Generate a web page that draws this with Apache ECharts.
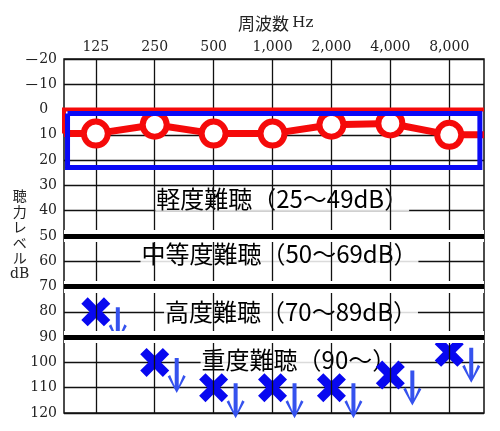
<!DOCTYPE html>
<html><head><meta charset="utf-8">
<script src="https://cdn.jsdelivr.net/npm/echarts@6/dist/echarts.min.js"></script>
<style>html,body{margin:0;padding:0;background:#fff}#c{width:500px;height:431px}</style>
</head><body><div id="c"></div>
<script>
// frequencies (Hz) shown on top axis
const freqLabels = ['125','250','500','1,000','2,000','4,000','8,000'];
// right ear thresholds (red O), dB
const rightEar = [9.5, 6, 9.5, 9.5, 6, 5.5, 10];
// left ear thresholds, scale-out (blue X with arrow), dB
const leftEar = [80, 100, 110, 110, 110, 105, 96];
// hearing-loss band boundaries (dB)
const bandLines = [50, 70, 90];
const bandNames = ['軽度難聴（25〜49dB）','中等度難聴（50〜69dB）','高度難聴（70〜89dB）','重度難聴（90〜）'];
// normal range box (dB)
const normalTop = 1.6, normalBottom = 22.9;

const XMIN = -0.54, XMAX = 6.59;
const labelPos = [[1.0,35.5],[0.75,57],[1.15,80],[1.77,99]];

const chart = echarts.init(document.getElementById('c'), null, {renderer:'canvas'});
const serif = 'DejaVu Serif';
const cjk = "'Noto Sans CJK JP'";
const xPath = 'path://M11.5,0H20.5V11.5H32V20.5H20.5V32H11.5V20.5H0V11.5H11.5Z';
const arrowPath = 'path://M7,0H11V28L15.6,17L18,18.6L9,35L0,18.6L2.4,17L7,28Z';

const thresholdData = [{value:[XMIN, rightEar[0]], symbol:'none'}]
  .concat(rightEar.map((v,i)=>({value:[i,v]})))
  .concat([{value:[XMAX, rightEar[rightEar.length-1]], symbol:'none'}]);

chart.setOption({
  animation:false,
  grid:{left:64,right:16,top:59,bottom:18,show:true,borderColor:'#111',borderWidth:1.5},
  xAxis:{type:'value',position:'top',min:XMIN,max:XMAX,
    splitLine:{show:false},axisLine:{show:false},axisTick:{show:false},
    axisLabel:{customValues:freqLabels.map((_,i)=>i),formatter:v=>freqLabels[Math.round(v)],
      margin:5,fontFamily:serif,fontSize:14,color:'#222'}},
  yAxis:{type:'value',inverse:true,min:-20,max:120,interval:10,
    axisLine:{show:false},axisTick:{show:false},
    splitLine:{show:true,lineStyle:{color:'#111',width:1.3}},
    axisLabel:{margin:7,fontFamily:serif,fontSize:14,color:'#222',
      formatter:v=>v<0?'{m|－}'+(-v):(v===0?'0\u2007':String(v)),
      rich:{m:{fontFamily:cjk,fontSize:15,color:'#222'}}}},
  graphic:[
    {type:'text',left:238,top:15,style:{text:'{a|周波数} {b|Hz}',rich:{a:{fontFamily:cjk,fontSize:17,fill:'#222'},b:{fontFamily:serif,fontSize:15,fill:'#222'}}}},
    {type:'text',left:10,top:189,style:{text:'{a|聴}\n{a|力}\n{a|レ}\n{a|ベ}\n{a|ル}\n{b|dB}',
      rich:{a:{fontFamily:cjk,fontSize:14,lineHeight:15.5,fill:'#222',align:'center'},
            b:{fontFamily:serif,fontSize:14,lineHeight:18,fill:'#222',align:'center'}}}}
  ],
  series:[
    {type:'line',data:[],z:1,silent:true,
      markLine:{silent:true,symbol:['none','none'],label:{show:false},
        lineStyle:{color:'#111',width:1.3,type:'solid'},
        data:freqLabels.map((_,i)=>({xAxis:i}))}},
    {type:'scatter',z:2,silent:true,symbolSize:1,itemStyle:{color:'rgba(0,0,0,0)',opacity:1},
      data:bandNames.map((n,i)=>({name:n,value:labelPos[i]})),
      label:{show:true,position:'right',distance:0,formatter:p=>p.name,
        fontFamily:cjk,fontSize:24,fontWeight:'normal',color:'#000',backgroundColor:'rgba(255,255,255,0.85)',padding:[0,1]}},
    {type:'scatter',z:3,symbol:arrowPath,symbolSize:[18,35],symbolOffset:[22,13],
      itemStyle:{color:'#3552ee',opacity:1},data:leftEar.map((v,i)=>[i,v])},
    {type:'scatter',z:4,symbol:xPath,symbolSize:32,symbolRotate:45,
      itemStyle:{color:'#0808f0',opacity:1},data:leftEar.map((v,i)=>[i,v])},
    {type:'line',data:[],z:5,silent:true,
      markLine:{silent:true,symbol:['none','none'],label:{show:false},
        lineStyle:{color:'#fff',width:12,type:'solid'},
        data:bandLines.map(v=>({yAxis:v}))}},
    {type:'line',data:[],z:6,silent:true,
      markLine:{silent:true,symbol:['none','none'],label:{show:false},
        lineStyle:{color:'#000',width:5,type:'solid'},
        data:bandLines.map(v=>({yAxis:v}))}},
    {type:'line',z:7,symbol:'none',clip:false,
      lineStyle:{color:'#f50a0a',width:4,join:'miter'},
      data:[[XMIN,rightEar[0]],[XMIN,0],[XMAX,0]]},
    {type:'line',z:8,symbol:'circle',symbolSize:24,clip:false,
      lineStyle:{color:'#f50a0a',width:7},
      itemStyle:{color:'#fff',borderColor:'#f50a0a',borderWidth:6},
      data:thresholdData},
    {type:'line',z:9,symbol:'none',clip:false,
      lineStyle:{color:'#0a0af5',width:5,join:'miter'},
      data:[[-0.48,normalTop],[6.52,normalTop],[6.52,normalBottom],[-0.48,normalBottom],[-0.48,normalTop]]}
  ]
});
</script></body></html>
